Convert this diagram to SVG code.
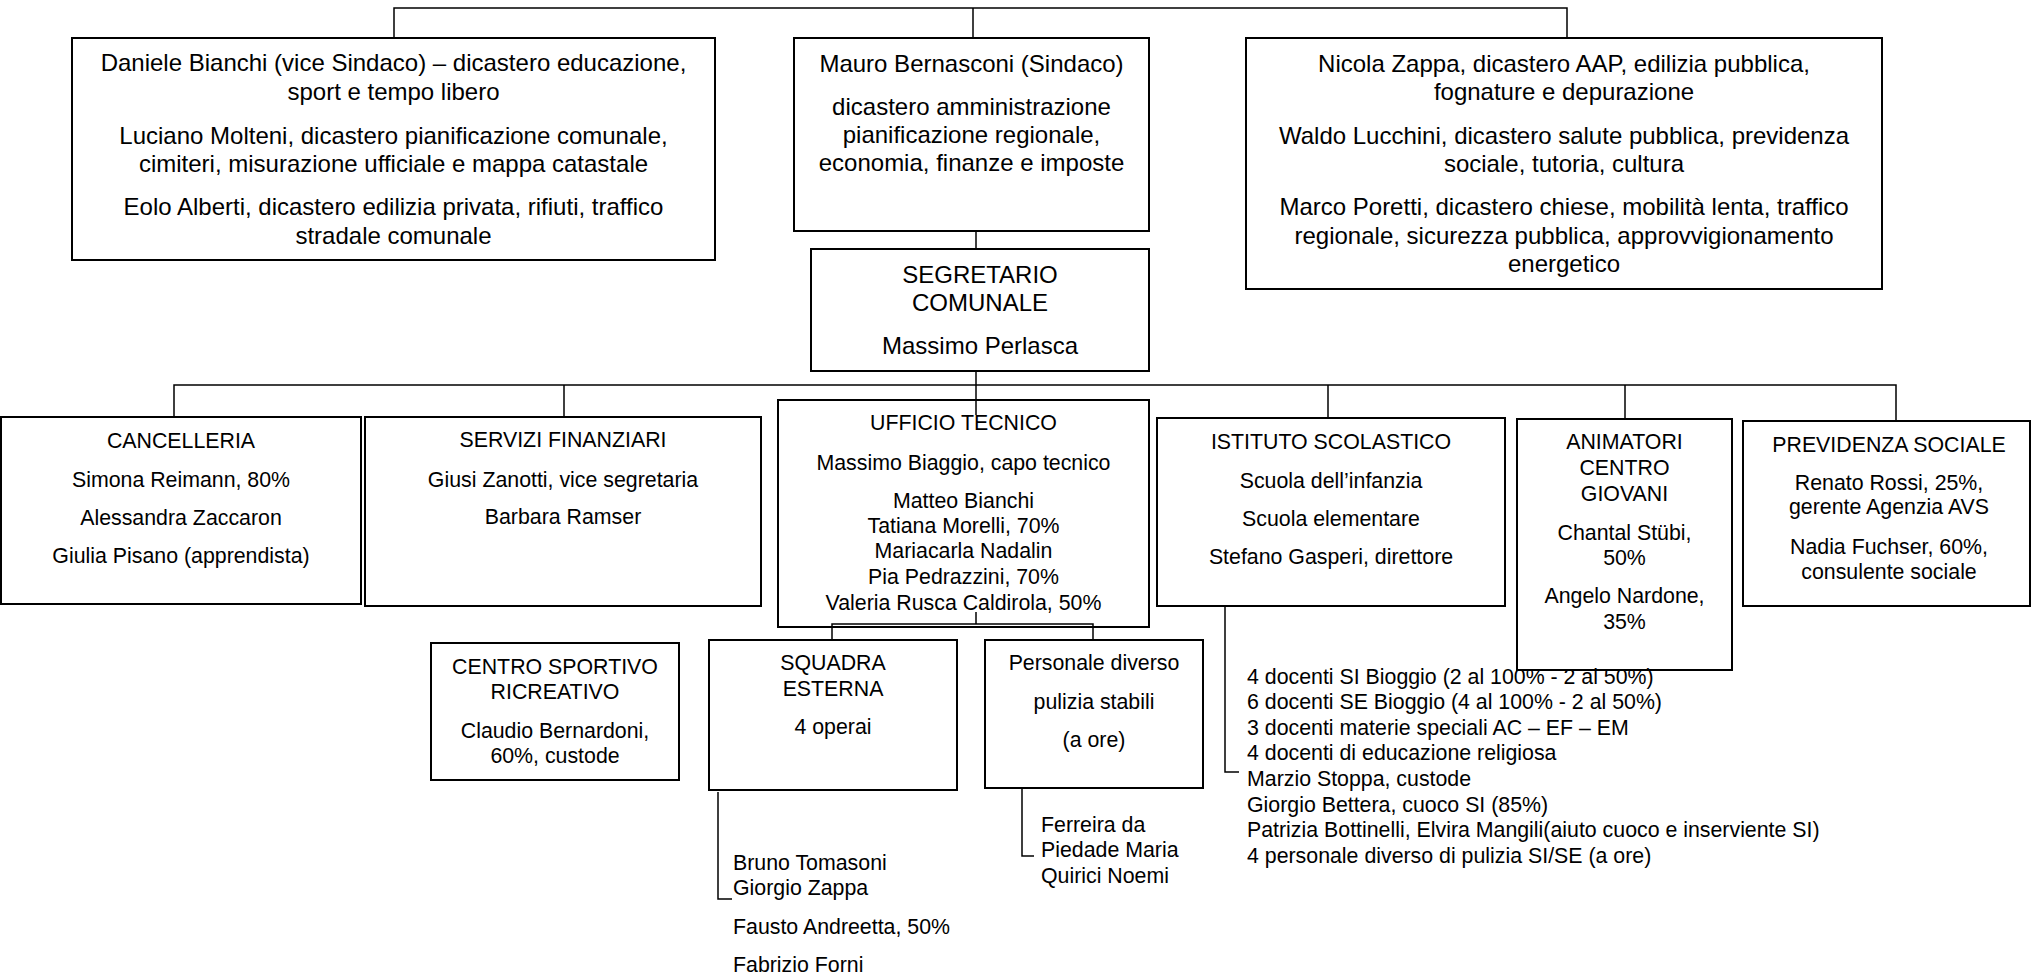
<svg xmlns="http://www.w3.org/2000/svg" width="2032" height="977" viewBox="0 0 2032 977">
<style>
  .box { fill: #ffffff; stroke: #000000; stroke-width: 2; }
  .conn { fill: none; stroke: #000000; stroke-width: 1.5; }
  text { font-family: "Liberation Sans", Arial, sans-serif; fill: #000000; }
  .big { font-size: 24px; text-anchor: middle; }
  .mid { font-size: 21.33px; text-anchor: middle; }
  .lst { font-size: 21.33px; text-anchor: start; }
</style>
<rect x="0" y="0" width="2032" height="977" fill="#ffffff"/>

<g id="connectors">
  <polyline class="conn" points="394,38 394,8 1567,8 1567,38"/>
  <line class="conn" x1="973" y1="8" x2="973" y2="38"/>
  <line class="conn" x1="976" y1="231" x2="976" y2="249"/>
  <line class="conn" x1="976" y1="371" x2="976" y2="385"/>
  <polyline class="conn" points="174,417 174,385 1896,385 1896,421"/>
  <line class="conn" x1="564" y1="385" x2="564" y2="417"/>
  <line class="conn" x1="1328" y1="385" x2="1328" y2="418"/>
  <line class="conn" x1="1625" y1="385" x2="1625" y2="419"/>
</g>

<g id="n_bianchi">
  <rect class="box" x="72" y="38" width="643" height="222"/>
  <text class="big" x="393.5" y="71">Daniele Bianchi (vice Sindaco) – dicastero educazione,</text>
  <text class="big" x="393.5" y="99.5">sport e tempo libero</text>
  <text class="big" x="393.5" y="144">Luciano Molteni, dicastero pianificazione comunale,</text>
  <text class="big" x="393.5" y="172">cimiteri, misurazione ufficiale e mappa catastale</text>
  <text class="big" x="393.5" y="215">Eolo Alberti, dicastero edilizia privata, rifiuti, traffico</text>
  <text class="big" x="393.5" y="244">stradale comunale</text>
</g>

<g id="n_sindaco">
  <rect class="box" x="794" y="38" width="355" height="193"/>
  <text class="big" x="971.5" y="71.5">Mauro Bernasconi (Sindaco)</text>
  <text class="big" x="971.5" y="115">dicastero amministrazione</text>
  <text class="big" x="971.5" y="143">pianificazione regionale,</text>
  <text class="big" x="971.5" y="171">economia, finanze e imposte</text>
</g>

<g id="n_zappa">
  <rect class="box" x="1246" y="38" width="636" height="251"/>
  <text class="big" x="1564" y="71.5">Nicola Zappa, dicastero AAP, edilizia pubblica,</text>
  <text class="big" x="1564" y="99.5">fognature e depurazione</text>
  <text class="big" x="1564" y="143.5">Waldo Lucchini, dicastero salute pubblica, previdenza</text>
  <text class="big" x="1564" y="171.5">sociale, tutoria, cultura</text>
  <text class="big" x="1564" y="215">Marco Poretti, dicastero chiese, mobilità lenta, traffico</text>
  <text class="big" x="1564" y="243.5">regionale, sicurezza pubblica, approvvigionamento</text>
  <text class="big" x="1564" y="271.5">energetico</text>
</g>

<g id="n_segretario">
  <rect class="box" x="811" y="249" width="338" height="122"/>
  <text class="big" x="980" y="282.5">SEGRETARIO</text>
  <text class="big" x="980" y="310.5">COMUNALE</text>
  <text class="big" x="980" y="354">Massimo Perlasca</text>
</g>

<g id="n_cancelleria">
  <rect class="box" x="1" y="417" width="360" height="187"/>
  <text class="mid" x="181" y="447.5">CANCELLERIA</text>
  <text class="mid" x="181" y="486.5">Simona Reimann, 80%</text>
  <text class="mid" x="181" y="525">Alessandra Zaccaron</text>
  <text class="mid" x="181" y="563">Giulia Pisano (apprendista)</text>
</g>

<g id="n_servizi">
  <rect class="box" x="365" y="417" width="396" height="189"/>
  <text class="mid" x="563" y="447">SERVIZI FINANZIARI</text>
  <text class="mid" x="563" y="486.5">Giusi Zanotti, vice segretaria</text>
  <text class="mid" x="563" y="523.5">Barbara Ramser</text>
</g>

<g id="n_ufficio">
  <rect class="box" x="778" y="400" width="371" height="227"/>
  <text class="mid" x="963.5" y="430">UFFICIO TECNICO</text>
  <text class="mid" x="963.5" y="469.5">Massimo Biaggio, capo tecnico</text>
  <text class="mid" x="963.5" y="507.5">Matteo Bianchi</text>
  <text class="mid" x="963.5" y="533">Tatiana Morelli, 70%</text>
  <text class="mid" x="963.5" y="558">Mariacarla Nadalin</text>
  <text class="mid" x="963.5" y="583.5">Pia Pedrazzini, 70%</text>
  <text class="mid" x="963.5" y="609.5">Valeria Rusca Caldirola, 50%</text>
</g>

<g id="n_istituto">
  <rect class="box" x="1157" y="418" width="348" height="188"/>
  <text class="mid" x="1331" y="448.5">ISTITUTO SCOLASTICO</text>
  <text class="mid" x="1331" y="487.5">Scuola dell’infanzia</text>
  <text class="mid" x="1331" y="525.5">Scuola elementare</text>
  <text class="mid" x="1331" y="563.5">Stefano Gasperi, direttore</text>
</g>

<g id="n_animatori">
  <rect class="box" x="1517" y="419" width="215" height="251"/>
  <text class="mid" x="1624.5" y="449">ANIMATORI</text>
  <text class="mid" x="1624.5" y="475">CENTRO</text>
  <text class="mid" x="1624.5" y="500.5">GIOVANI</text>
  <text class="mid" x="1624.5" y="539.5">Chantal Stübi,</text>
  <text class="mid" x="1624.5" y="565">50%</text>
  <text class="mid" x="1624.5" y="603">Angelo Nardone,</text>
  <text class="mid" x="1624.5" y="628.5">35%</text>
</g>

<g id="n_previdenza">
  <rect class="box" x="1743" y="421" width="287" height="185"/>
  <text class="mid" x="1889" y="452">PREVIDENZA SOCIALE</text>
  <text class="mid" x="1889" y="489.5">Renato Rossi, 25%,</text>
  <text class="mid" x="1889" y="514">gerente Agenzia AVS</text>
  <text class="mid" x="1889" y="554">Nadia Fuchser, 60%,</text>
  <text class="mid" x="1889" y="578.5">consulente sociale</text>
</g>

<g id="n_centro_sportivo">
  <rect class="box" x="431" y="643" width="248" height="137"/>
  <text class="mid" x="555" y="673.5">CENTRO SPORTIVO</text>
  <text class="mid" x="555" y="698.5">RICREATIVO</text>
  <text class="mid" x="555" y="737.5">Claudio Bernardoni,</text>
  <text class="mid" x="555" y="762.5">60%, custode</text>
</g>

<g id="n_squadra">
  <rect class="box" x="709" y="640" width="248" height="150"/>
  <text class="mid" x="833" y="670">SQUADRA</text>
  <text class="mid" x="833" y="696">ESTERNA</text>
  <text class="mid" x="833" y="733.5">4 operai</text>
</g>

<g id="n_personale">
  <rect class="box" x="985" y="640" width="218" height="148"/>
  <text class="mid" x="1094" y="670">Personale diverso</text>
  <text class="mid" x="1094" y="708.5">pulizia stabili</text>
  <text class="mid" x="1094" y="747">(a ore)</text>
</g>

<g id="connectors_sub">
  <line class="conn" x1="976" y1="385" x2="976" y2="415"/>
  <line class="conn" x1="976" y1="612" x2="976" y2="624"/>
  <polyline class="conn" points="832,640 832,624 1093,624 1093,640"/>
  <polyline class="conn" points="718,792 718,899 732,899"/>
  <polyline class="conn" points="1022,788 1022,856 1034,856"/>
  <polyline class="conn" points="1225,606 1225,772 1239,772"/>
</g>

<g id="n_squadra_list">
  <text class="lst" x="733" y="869.5">Bruno Tomasoni</text>
  <text class="lst" x="733" y="895">Giorgio Zappa</text>
  <text class="lst" x="733" y="933.5">Fausto Andreetta, 50%</text>
  <text class="lst" x="733" y="972">Fabrizio Forni</text>
</g>

<g id="n_personale_list">
  <text class="lst" x="1041" y="831.5">Ferreira da</text>
  <text class="lst" x="1041" y="857">Piedade Maria</text>
  <text class="lst" x="1041" y="882.5">Quirici Noemi</text>
</g>

<g id="n_istituto_list">
  <text class="lst" x="1247" y="683.5">4 docenti SI Bioggio (2 al 100% - 2 al 50%)</text>
  <text class="lst" x="1247" y="709.1">6 docenti SE Bioggio (4 al 100% - 2 al 50%)</text>
  <text class="lst" x="1247" y="734.7">3 docenti materie speciali AC – EF – EM</text>
  <text class="lst" x="1247" y="760.3">4 docenti di educazione religiosa</text>
  <text class="lst" x="1247" y="785.9">Marzio Stoppa, custode</text>
  <text class="lst" x="1247" y="811.5">Giorgio Bettera, cuoco SI (85%)</text>
  <text class="lst" x="1247" y="837.1">Patrizia Bottinelli, Elvira Mangili(aiuto cuoco e inserviente SI)</text>
  <text class="lst" x="1247" y="862.7">4 personale diverso di pulizia SI/SE (a ore)</text>
</g>
</svg>
